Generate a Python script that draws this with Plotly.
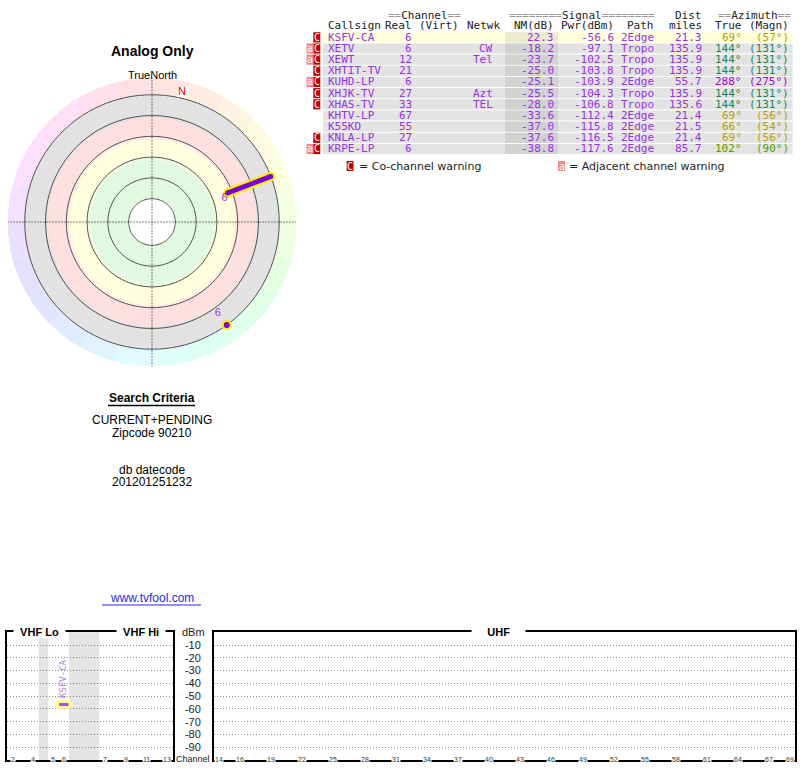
import plotly.graph_objects as go

W, H = 800, 768

# ---- station list ----
callsign = ["KSFV-CA", "XETV", "XEWT", "XHTIT-TV", "KUHD-LP", "XHJK-TV",
            "XHAS-TV", "KHTV-LP", "K55KD", "KNLA-LP", "KRPE-LP"]
real_ch = [6, 6, 12, 21, 6, 27, 33, 67, 55, 27, 6]
netwk = ["", "CW", "Tel", "", "", "Azt", "TEL", "", "", "", ""]
nm_db = [22.3, -18.2, -23.7, -25.0, -25.1, -25.5, -28.0, -33.6, -37.0, -37.6, -38.8]
pwr_dbm = [-56.6, -97.1, -102.5, -103.8, -103.9, -104.3, -106.8, -112.4, -115.8, -116.5, -117.6]
path = ["2Edge", "Tropo", "Tropo", "Tropo", "2Edge", "Tropo", "Tropo",
        "2Edge", "2Edge", "2Edge", "2Edge"]
dist_mi = [21.3, 135.9, 135.9, 135.9, 55.7, 135.9, 135.6, 21.4, 21.5, 21.4, 85.7]
az_true = [69, 144, 144, 144, 288, 144, 144, 69, 66, 69, 102]
az_magn = [57, 131, 131, 131, 275, 131, 131, 56, 54, 56, 90]
co_warn = [1, 1, 1, 1, 1, 1, 1, 0, 0, 1, 1]
adj_warn = [0, 1, 1, 0, 1, 0, 0, 0, 0, 0, 1]
analog = [1, 1, 0, 0, 0, 0, 0, 0, 0, 0, 0]

ring_nm = [50, 40, 30, 20, 10, 0]
vhf_ticks = [2, 4, 5, 6, 7, 9, 11, 13]
uhf_ticks = [14, 16, 19, 22, 25, 28, 31, 34, 37, 40, 43, 46, 49, 52, 55, 58, 61, 64, 67, 69]
dbm_ticks = [-10, -20, -30, -40, -50, -60, -70, -80, -90]
MAG_DECL = 13

# colours
PURPLE = "#9632e6"
LINE_PURPLE = "#7800d2"
AZ_COL = {69: "#b4a000", 66: "#b4a000", 144: "#14875a", 288: "#a800d8", 102: "#5a9a00"}
MONO = "DejaVu Sans Mono"
SANS = "Liberation Sans, Arial, sans-serif"
DOT = "1px,2px"


def px(x):
    return x / W


def py(y):
    return 1 - y / H


fig = go.Figure()

# =========================== radar ===========================
R_MAX = 69.5
R_ZERO = 61.2  # radius of the NM = 0 dB ring


def nm_r(v):
    return R_ZERO - max(v, 0)


# rainbow rim
seg = list(range(0, 360, 15))
fig.add_trace(go.Barpolar(
    theta=[s + 7.5 for s in seg], r=[R_MAX - R_ZERO] * len(seg), base=[R_ZERO] * len(seg),
    width=[15] * len(seg), marker=dict(color=[f"hsl({s + 7.5},100%,94%)" for s in seg], line_width=0),
    hoverinfo="skip"))

# signal bands, with a soft edge towards the next band
bands = [(50, 30, (224, 249, 224)), (30, 20, (255, 255, 224)), (20, 10, (255, 224, 224)), (10, 0, (226, 226, 226))]
for k, (hi, lo, col) in enumerate(bands):
    fig.add_trace(go.Barpolar(
        theta=[90, 270], width=[180, 180], base=[nm_r(hi)] * 2, r=[nm_r(lo) - nm_r(hi)] * 2,
        marker=dict(color="rgb(%d,%d,%d)" % col, line_width=0), hoverinfo="skip"))
    if k + 1 < len(bands):
        nxt = bands[k + 1][2]
        for j, f in enumerate((0.25, 0.5, 0.75)):
            c = tuple(int(col[m] + (nxt[m] - col[m]) * f) for m in range(3))
            fig.add_trace(go.Barpolar(
                theta=[90, 270], width=[180, 180], base=[nm_r(lo) - 1.8 + j * 0.6] * 2, r=[0.6] * 2,
                marker=dict(color="rgb(%d,%d,%d)" % c, line_width=0), hoverinfo="skip"))

# rings
ring_th = list(range(0, 361, 3))
for v in ring_nm:
    fig.add_trace(go.Scatterpolar(r=[nm_r(v)] * len(ring_th), theta=ring_th, mode="lines",
                                  line=dict(color="#505050", width=1), hoverinfo="skip"))

# crosshair
for a in (0, 90):
    fig.add_trace(go.Scatterpolar(r=[R_MAX, 0, R_MAX], theta=[a, a, a + 180], mode="lines",
                                  line=dict(color="black", width=1, dash=DOT), hoverinfo="skip"))

# magnetic north
fig.add_trace(go.Scatterpolar(r=[64.2], theta=[MAG_DECL], mode="markers+text", text=["N"],
                              textposition="middle center",
                              marker=dict(symbol="square", size=10, color="white"),
                              textfont=dict(color="#e00000", size=11, family=SANS), hoverinfo="skip"))

# stations
for i in range(len(callsign)):
    if not analog[i]:
        continue
    if nm_db[i] > 0:
        rr = [nm_r(nm_db[i]), nm_r(0)]
        th = [az_true[i]] * 2
        fig.add_trace(go.Scatterpolar(r=rr, theta=th, mode="lines+markers",
                                      line=dict(color="#ffee00", width=9),
                                      marker=dict(size=9, color="#ffee00"), hoverinfo="skip"))
        fig.add_trace(go.Scatterpolar(r=rr, theta=th, mode="lines+markers",
                                      line=dict(color=LINE_PURPLE, width=5),
                                      marker=dict(size=5, color=LINE_PURPLE), hoverinfo="skip"))
        fig.add_trace(go.Scatterpolar(r=[rr[0]], theta=[th[0]], mode="text", text=[str(real_ch[i])],
                                      textposition="bottom left",
                                      textfont=dict(color=PURPLE, size=11, family=SANS), hoverinfo="skip"))
    else:
        fig.add_trace(go.Scatterpolar(r=[nm_r(0)], theta=[az_true[i]], mode="markers+text",
                                      text=[str(real_ch[i])], textposition="top left",
                                      marker=dict(size=8, color=LINE_PURPLE, line=dict(color="#ffee00", width=2)),
                                      textfont=dict(color=PURPLE, size=11, family=SANS), hoverinfo="skip"))

# =========================== spectrum ===========================
GAP_45, GAP_FM = 0.9, 2.9


def vhf_pos(ch):
    p = ch - 1.5
    if ch >= 5:
        p += GAP_45
    if ch >= 7:
        p += GAP_FM
    return p


VHF_SPAN = vhf_pos(13) + 0.5

for i in range(len(callsign)):
    if nm_db[i] <= 0:
        continue
    ch = real_ch[i]
    if ch <= 13:
        xp, xa, ya = vhf_pos(ch), "x", "y"
    else:
        xp, xa, ya = ch, "x2", "y2"
    xs = [xp - 0.45, xp + 0.45]
    ys = [pwr_dbm[i]] * 2
    fig.add_trace(go.Scatter(x=xs, y=ys, xaxis=xa, yaxis=ya, mode="lines+markers",
                             line=dict(color="#ffff88", width=8), marker=dict(size=8, color="#ffff88"),
                             hoverinfo="skip"))
    fig.add_trace(go.Scatter(x=xs, y=ys, xaxis=xa, yaxis=ya, mode="lines",
                             line=dict(color="#a855e0", width=3), hoverinfo="skip"))
    fig.add_annotation(x=xp, y=pwr_dbm[i], xref=xa, yref=ya, text=callsign[i], textangle=-90,
                       showarrow=False, xanchor="center", yanchor="bottom", yshift=5, xshift=-1,
                       font=dict(family=MONO, size=9, color="#b57ee6"))

# gray gaps in the VHF band
for x0, x1 in [(vhf_pos(4) + 0.5, vhf_pos(5) - 0.5), (vhf_pos(6) + 0.5, vhf_pos(7) - 0.5)]:
    fig.add_shape(type="rect", xref="x", yref="y domain", x0=x0, x1=x1, y0=0, y1=1,
                  fillcolor="#e4e4e4", line_width=0, layer="below")

for t in vhf_ticks:
    fig.add_annotation(x=vhf_pos(t), y=-100, xref="x", yref="y", text=str(t), showarrow=False,
                       xanchor="center", yanchor="middle", bgcolor="white", borderpad=0, yshift=1,
                       font=dict(family=SANS, size=7, color="#333"))
for t in uhf_ticks:
    fig.add_annotation(x=t, y=-100, xref="x2", yref="y2", text=str(t), showarrow=False,
                       xanchor="center", yanchor="middle", bgcolor="white", borderpad=0, yshift=1,
                       font=dict(family=SANS, size=7, color="#333"))

NB = "\u00a0"
for label, cx in [("VHF Lo", 39.5), ("VHF Hi", 140.5), ("UHF", 498)]:
    pad = NB * (2 if label != "UHF" else 5)
    fig.add_annotation(x=px(cx), y=py(632.3), xref="paper", yref="paper", text=f"<b>{pad}{label}{pad}</b>",
                       showarrow=False, xanchor="center", yanchor="middle", bgcolor="white", borderpad=0,
                       font=dict(family=SANS, size=11, color="black"))
fig.add_annotation(x=px(193), y=py(632), xref="paper", yref="paper", text="dBm", showarrow=False,
                   xanchor="center", yanchor="middle", font=dict(family=SANS, size=11, color="#222"))
fig.add_annotation(x=px(192.5), y=py(758.5), xref="paper", yref="paper", text="Channel", showarrow=False,
                   xanchor="center", yanchor="middle", font=dict(family=SANS, size=9, color="#222"))

# =========================== table ===========================
ROW0, ROW_H = 37.3, 11.17
X_L, X_R = 323, 792.7


def txt(x, y, s, color="#222", anchor="left", size=11, family=MONO):
    fig.add_annotation(x=px(x), y=py(y), xref="paper", yref="paper", text=s, showarrow=False,
                       xanchor=anchor, yanchor="middle", borderpad=0,
                       font=dict(family=family, size=size, color=color))


EQ = lambda k: f"<span style='color:#9a9a9a'>{'=' * k}</span>"
txt(387.3, 15, EQ(2) + "Channel" + EQ(2))
txt(508.3, 15, EQ(8) + "Signal" + EQ(8))
txt(703, 15, "Dist", anchor="right")
txt(716.7, 15, EQ(2) + "Azimuth" + EQ(2))
txt(326.7, 25, "Callsign")
for s, xr in [("Real", 413.3), ("(Virt)", 460), ("Netwk", 501), ("NM(dB)", 555), ("Pwr(dBm)", 615),
              ("Path", 655), ("miles", 703), ("True", 743), ("(Magn)", 790)]:
    txt(xr, 25, s, anchor="right")

for i in range(len(callsign)):
    yc = ROW0 + i * ROW_H
    y0, y1 = yc - ROW_H / 2 + 0.5, yc + ROW_H / 2 - 0.5
    bg, nmbg = ("#ffffdc", "#ebebd0") if nm_db[i] > 0 else ("#e3e3e3", "#d2d2d2")
    fig.add_shape(type="rect", xref="paper", yref="paper", x0=px(X_L), x1=px(X_R), y0=py(y1), y1=py(y0),
                  fillcolor=bg, line_width=0, layer="below")
    fig.add_shape(type="rect", xref="paper", yref="paper", x0=px(505), x1=px(558), y0=py(y1), y1=py(y0),
                  fillcolor=nmbg, line_width=0, layer="below")
    if co_warn[i]:
        fig.add_shape(type="rect", xref="paper", yref="paper", x0=px(313.3), x1=px(320.3),
                      y0=py(y1), y1=py(y0), fillcolor="#bf0000", line_width=0)
        txt(316.8, yc, "C", color="white", anchor="center", size=10)
    if adj_warn[i]:
        fig.add_shape(type="rect", xref="paper", yref="paper", x0=px(306.5), x1=px(313.3),
                      y0=py(y1), y1=py(y0), fillcolor="#ff8585", line_width=0)
        txt(309.9, yc, "a", color="white", anchor="center", size=10)
    txt(326.7, yc, callsign[i], PURPLE)
    txt(413.3, yc, str(real_ch[i]), PURPLE, "right")
    if netwk[i]:
        txt(494.3, yc, netwk[i], PURPLE, "right")
    txt(555, yc, f"{nm_db[i]:.1f}", PURPLE, "right")
    txt(615, yc, f"{pwr_dbm[i]:.1f}", PURPLE, "right")
    txt(655, yc, path[i], PURPLE, "right")
    txt(703, yc, f"{dist_mi[i]:.1f}", PURPLE, "right")
    txt(743, yc, f"{az_true[i]}°", AZ_COL[az_true[i]], "right")
    txt(790, yc, f"({az_magn[i]}°)", AZ_COL[az_true[i]], "right")

# legend
fig.add_shape(type="rect", xref="paper", yref="paper", x0=px(346.7), x1=px(353.5), y0=py(171), y1=py(161),
              fillcolor="#bf0000", line_width=0)
txt(350.1, 166, "C", color="white", anchor="center", size=10)
txt(358, 166, "= Co-channel warning", "#222", size=11, family="DejaVu Sans")
fig.add_shape(type="rect", xref="paper", yref="paper", x0=px(558), x1=px(565), y0=py(171), y1=py(161),
              fillcolor="#ff8585", line_width=0)
txt(561.5, 166, "a", color="white", anchor="center", size=10)
txt(568, 166, "= Adjacent channel warning", "#222", size=11, family="DejaVu Sans")

# =========================== left texts ===========================
txt(152, 51, "<b>Analog Only</b>", "black", "center", 14, SANS)
txt(152, 75, "TrueNorth", "black", "center", 11, SANS)
txt(152, 398, "<b>Search Criteria</b>", "black", "center", 12, SANS)
txt(152, 420, "CURRENT+PENDING", "black", "center", 12, SANS)
txt(152, 433, "Zipcode 90210", "black", "center", 12, SANS)
txt(152, 470, "db datecode", "black", "center", 12, SANS)
txt(152, 482, "201201251232", "black", "center", 12, SANS)
txt(152, 598, "www.tvfool.com", "#2828dc", "center", 12, SANS)
fig.add_shape(type="line", xref="paper", yref="paper", x0=px(108), x1=px(195), y0=py(405.5), y1=py(405.5),
              line=dict(color="black", width=1.5))
fig.add_shape(type="line", xref="paper", yref="paper", x0=px(102), x1=px(201), y0=py(605), y1=py(605),
              line=dict(color="#2828dc", width=1))

frame = dict(showline=True, mirror=True, linecolor="black", linewidth=2, zeroline=False,
             fixedrange=True, ticks="")
grid = dict(showgrid=True, gridcolor="#8a8a8a", griddash=DOT, gridwidth=1)
fig.update_layout(
    width=W, height=H, margin=dict(l=0, r=0, t=0, b=0),
    paper_bgcolor="white", plot_bgcolor="white", showlegend=False,
    polar=dict(domain=dict(x=[px(7.5), px(296.5)], y=[py(366.5), py(77.5)]),
               bgcolor="rgba(0,0,0,0)", barmode="overlay",
               radialaxis=dict(visible=False, range=[0, R_MAX]),
               angularaxis=dict(visible=False, rotation=90, direction="clockwise")),
    xaxis=dict(domain=[px(7.3), px(172.7)], range=[0, VHF_SPAN], showgrid=False,
               showticklabels=False, anchor="y", **frame),
    yaxis=dict(domain=[py(760), py(632.3)], range=[-100, 0], tickvals=dbm_ticks, showticklabels=False,
               anchor="x", **grid, **frame),
    xaxis2=dict(domain=[px(214), px(795.4)], range=[13.5, 69.5], showgrid=False,
                showticklabels=False, anchor="y2", **frame),
    yaxis2=dict(domain=[py(760), py(632.3)], range=[-100, 0], tickvals=dbm_ticks,
                ticktext=[str(v) for v in dbm_ticks], showticklabels=True, ticklabelstandoff=9,
                tickfont=dict(family=SANS, size=11, color="#222"), anchor="x2", **grid, **frame),
)

# page body has a default 8px margin; drop it so the 800x768 figure fills the window
fig.write_html("out.html", config={"displayModeBar": False},
               post_script="document.body.style.margin='0';")
